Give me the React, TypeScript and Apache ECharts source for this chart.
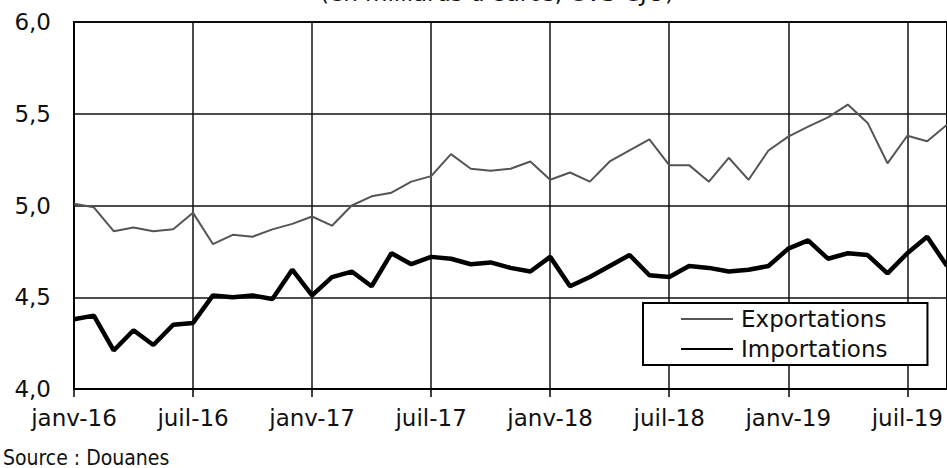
import React, { useEffect, useRef } from "react";
import * as echarts from "echarts";

const monthNames = ["janv", "févr", "mars", "avr", "mai", "juin", "juil", "août", "sept", "oct", "nov", "déc"];
const years = ["16", "17", "18", "19"];
const monthCount = 45; // janv-16 .. sept-19

const exportations = [
  5.01, 4.99, 4.86, 4.88, 4.86, 4.87, 4.96, 4.79, 4.84, 4.83, 4.87, 4.90,
  4.94, 4.89, 5.00, 5.05, 5.07, 5.13, 5.16, 5.28, 5.20, 5.19, 5.20, 5.24,
  5.14, 5.18, 5.13, 5.24, 5.30, 5.36, 5.22, 5.22, 5.13, 5.26, 5.14, 5.30,
  5.375, 5.43, 5.48, 5.55, 5.45, 5.23, 5.38, 5.35, 5.44,
];

const importations = [
  4.38, 4.40, 4.21, 4.32, 4.24, 4.35, 4.36, 4.51, 4.50, 4.51, 4.49, 4.65,
  4.51, 4.61, 4.64, 4.56, 4.74, 4.68, 4.72, 4.71, 4.68, 4.69, 4.66, 4.64,
  4.72, 4.56, 4.61, 4.67, 4.73, 4.62, 4.61, 4.67, 4.66, 4.64, 4.65, 4.67,
  4.765, 4.81, 4.71, 4.74, 4.73, 4.63, 4.74, 4.83, 4.67,
];

const categories: string[] = [];
for (let i = 0; i < monthCount; i++) {
  categories.push(monthNames[i % 12] + "-" + years[Math.floor(i / 12)]);
}

const yMin = 4;
const yMax = 6;
const yStep = 0.5;

const titleText = "(en milliards d'euros, CVS-CJO)";
const sourceText = "Source : Douanes";

const sans = "'DejaVu Sans', sans-serif";
const condensed = "'DejaVu Sans Condensed', 'DejaVu Sans', sans-serif";

export default function App() {
  const ref = useRef<HTMLDivElement>(null);
  useEffect(() => {
    if (!ref.current) return;
    const chart = echarts.init(ref.current, undefined, { renderer: "svg" });
    const every6 = (i: number) => i % 6 === 0;
    chart.setOption({
      animation: false,
      backgroundColor: "#ffffff",
      graphic: [
        {
          type: "text",
          x: 497,
          y: 4,
          style: {
            text: titleText,
            font: `23px ${sans}`,
            fill: "#111",
            textAlign: "center",
            textVerticalAlign: "bottom",
          },
        },
        {
          type: "text",
          left: 3,
          top: 447,
          style: {
            text: sourceText,
            font: `21px ${condensed}`,
            fill: "#111",
          },
        },
      ],
      grid: {
        left: 74,
        top: 22,
        width: 874.7,
        height: 367,
        show: true,
        borderColor: "#000",
        borderWidth: 2,
        backgroundColor: "transparent",
      },
      legend: {
        orient: "vertical",
        left: 643,
        top: 303,
        backgroundColor: "#fff",
        borderColor: "#000",
        borderWidth: 2,
        borderRadius: 0,
        padding: [4, 40, 4, 37],
        itemGap: 6,
        itemWidth: 52,
        itemHeight: 14,
        itemStyle: { opacity: 0 },
        textStyle: {
          fontFamily: sans,
          fontSize: 23,
          lineHeight: 24,
          color: "#111",
          padding: [0, 0, 0, 3],
        },
        data: ["Exportations", "Importations"],
      },
      xAxis: {
        type: "category",
        data: categories,
        boundaryGap: false,
        axisLine: { show: true, lineStyle: { color: "#000", width: 2 } },
        axisTick: {
          show: true,
          interval: every6,
          length: 8,
          lineStyle: { color: "#000", width: 1.5 },
        },
        axisLabel: {
          interval: every6,
          margin: 17,
          fontFamily: sans,
          fontSize: 23,
          color: "#111",
        },
        splitLine: {
          show: true,
          interval: every6,
          lineStyle: { color: "#111", width: 1.5 },
        },
      },
      yAxis: {
        type: "value",
        min: yMin,
        max: yMax,
        interval: yStep,
        axisLine: { show: true, lineStyle: { color: "#000", width: 2 } },
        axisTick: { show: false },
        axisLabel: {
          margin: 23,
          fontFamily: sans,
          fontSize: 23,
          color: "#111",
          formatter: (v: number) => v.toFixed(1).replace(".", ","),
        },
        splitLine: { show: true, lineStyle: { color: "#111", width: 1.5 } },
      },
      series: [
        {
          name: "Exportations",
          type: "line",
          data: exportations,
          symbol: "none",
          lineStyle: { color: "#555", width: 2 },
          itemStyle: { color: "#555" },
        },
        {
          name: "Importations",
          type: "line",
          data: importations,
          symbol: "none",
          lineStyle: { color: "#000", width: 4.5 },
          itemStyle: { color: "#000" },
        },
      ],
    });
    return () => chart.dispose();
  }, []);
  return (
    <div
      ref={ref}
      style={{ position: "fixed", left: 0, top: 0, width: 947, height: 468 }}
    />
  );
}
